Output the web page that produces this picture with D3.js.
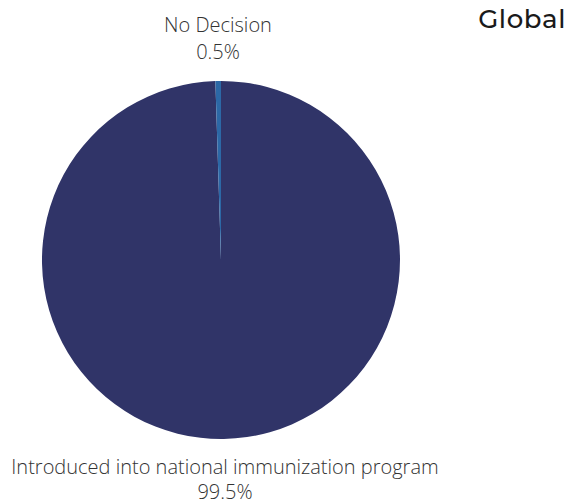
<!DOCTYPE html>
<html><head><meta charset="utf-8">
<script src="https://cdn.jsdelivr.net/npm/d3@7"></script>
<style>html,body{margin:0;padding:0;background:#fff;}svg{display:block;}</style>
</head><body>
<svg id="c" width="568" height="504"></svg>
<script>
const categories = ["Introduced into national immunization program", "No Decision"];
const values = [99.5, 0.5];
const colors = ["#303468", "#2c68a6"];
const title = "Global";

const svg = d3.select("#c");
const cx = 221, cy = 260, r = 179;
const data = categories.map((c, i) => ({cat: c, value: values[i], color: colors[i]}));
const pie = d3.pie().value(d => d.value).sort(null);
const arc = d3.arc().innerRadius(0).outerRadius(r);
const arcs = pie(data);
const g = svg.append("g").attr("transform", `translate(${cx},${cy})`);
g.selectAll("path").data(arcs).join("path")
  .attr("d", arc).attr("fill", d => d.data.color);

svg.append("text").attr("x", 566).attr("y", 28).attr("text-anchor", "end")
  .attr("font-family", "Montserrat, 'Open Sans', sans-serif").attr("font-weight", 500)
  .attr("font-size", 26).attr("letter-spacing", 0.6).attr("fill", "#1a1a1a").text(title);

const lab = [
  {i: 1, x: 218, y1: 32, y2: 59},
  {i: 0, x: 225, y1: 474, y2: 499}
];
lab.forEach(l => {
  const t = svg.append("text").attr("text-anchor", "middle")
    .attr("font-family", "'Open Sans', sans-serif").attr("font-weight", 300)
    .attr("font-size", 20).attr("fill", "#333");
  t.append("tspan").attr("x", l.x).attr("y", l.y1).text(categories[l.i]);
  t.append("tspan").attr("x", l.x).attr("y", l.y2).text(values[l.i] + "%");
});
</script>
</body></html>
